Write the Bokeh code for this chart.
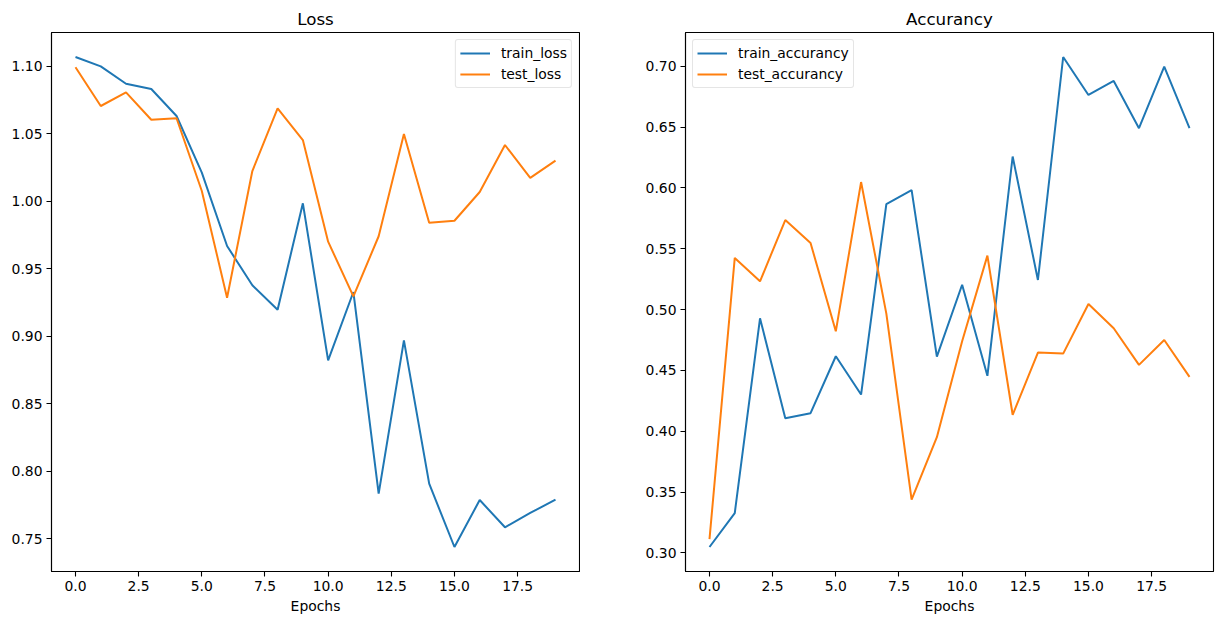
from bokeh.plotting import figure
from bokeh.layouts import row
from bokeh.models import Range1d, FixedTicker, NumeralTickFormatter
from bokeh.embed import file_html
from bokeh.resources import INLINE

# Training history (20 epochs)
epochs = list(range(20))
train_loss = [1.1069, 1.1000, 1.0871, 1.0832, 1.0632, 1.0212, 0.9669, 0.9378, 0.9197, 0.9985,
              0.8822, 0.9328, 0.7834, 0.8970, 0.7908, 0.7439, 0.7787, 0.7585, 0.7691, 0.7790]
test_loss = [1.0993, 1.0706, 1.0807, 1.0604, 1.0615, 1.0076, 0.9286, 1.0224, 1.0689, 1.0454,
             0.9701, 0.9296, 0.9741, 1.0499, 0.9841, 0.9856, 1.0069, 1.0417, 1.0173, 1.0301]
train_acc = [0.3048, 0.3327, 0.4928, 0.4107, 0.4148, 0.4616, 0.4301, 0.5867, 0.5982, 0.4613,
             0.5204, 0.4455, 0.6258, 0.5243, 0.7076, 0.6764, 0.6879, 0.6491, 0.6997, 0.6491]
test_acc = [0.3113, 0.5424, 0.5232, 0.5736, 0.5547, 0.4821, 0.6048, 0.4966, 0.3437, 0.3951,
            0.4740, 0.5443, 0.4135, 0.4646, 0.4638, 0.5046, 0.4846, 0.4545, 0.4750, 0.4447]

x_ticks = [0.0, 2.5, 5.0, 7.5, 10.0, 12.5, 15.0, 17.5]
loss_ticks = [0.75, 0.80, 0.85, 0.90, 0.95, 1.00, 1.05, 1.10]
acc_ticks = [0.30, 0.35, 0.40, 0.45, 0.50, 0.55, 0.60, 0.65, 0.70]

BLUE = "#1f77b4"
ORANGE = "#ff7f0e"
FONT = "DejaVu Sans"
FS = "13.9px"


def padded(vals, frac=0.05):
    lo, hi = min(vals), max(vals)
    pad = (hi - lo) * frac
    return lo - pad, hi + pad


def make_panel(title, s1, s2, n1, n2, yticks, legend_loc, width, bl, br):
    x0, x1 = padded(epochs)
    y0, y1 = padded(s1 + s2)
    p = figure(width=width, height=624, output_backend="svg", toolbar_location=None,
               x_range=Range1d(x0, x1), y_range=Range1d(y0, y1),
               min_border_left=bl, min_border_right=br, min_border_top=32, min_border_bottom=53,
               title=title)
    p.line(epochs, s1, line_color=BLUE, line_width=2.0, legend_label=n1)
    p.line(epochs, s2, line_color=ORANGE, line_width=2.0, legend_label=n2)

    p.title.align = "center"
    p.title.text_font = FONT
    p.title.text_font_size = "16.7px"
    p.title.text_font_style = "normal"
    p.title.text_color = "black"
    p.title.standoff = 8

    p.xgrid.visible = False
    p.ygrid.visible = False
    p.outline_line_color = "black"
    p.outline_line_width = 1.1
    p.outline_line_alpha = 1.0

    p.xaxis.ticker = FixedTicker(ticks=x_ticks)
    p.xaxis.formatter = NumeralTickFormatter(format="0.0")
    p.yaxis.ticker = FixedTicker(ticks=yticks)
    p.yaxis.formatter = NumeralTickFormatter(format="0.00")
    p.xaxis.axis_label = "Epochs"

    for ax in (p.xaxis, p.yaxis):
        ax.axis_line_color = "black"
        ax.axis_line_width = 1.1
        ax.major_tick_line_color = "black"
        ax.major_tick_line_width = 1.1
        ax.major_tick_out = 5
        ax.major_tick_in = 0
        ax.minor_tick_line_color = None
        ax.major_label_text_font = FONT
        ax.major_label_text_font_size = FS
        ax.major_label_text_color = "black"
        ax.major_label_standoff = 4
        ax.axis_label_text_font = FONT
        ax.axis_label_text_font_size = FS
        ax.axis_label_text_font_style = "normal"
        ax.axis_label_text_color = "black"
        ax.axis_label_standoff = 4

    lg = p.legend[0]
    lg.location = legend_loc
    lg.margin = 7
    lg.padding = 4
    lg.spacing = 3
    lg.glyph_width = 30
    lg.glyph_height = 18
    lg.label_height = 18
    lg.label_standoff = 11
    lg.label_text_font = FONT
    lg.label_text_font_size = FS
    lg.label_text_color = "black"
    lg.border_line_color = "#cccccc"
    lg.border_line_width = 1
    lg.border_radius = 3
    lg.background_fill_alpha = 0.8
    return p


p1 = make_panel("Loss", train_loss, test_loss, "train_loss", "test_loss",
                loss_ticks, "top_right", 580, 51, 1)
p2 = make_panel("Accurancy", train_acc, test_acc, "train_accurancy", "test_accurancy",
                acc_ticks, "top_left", 643, 105, 10)

layout = row(p1, p2)
open("out.html", "w").write(file_html(layout, INLINE))
